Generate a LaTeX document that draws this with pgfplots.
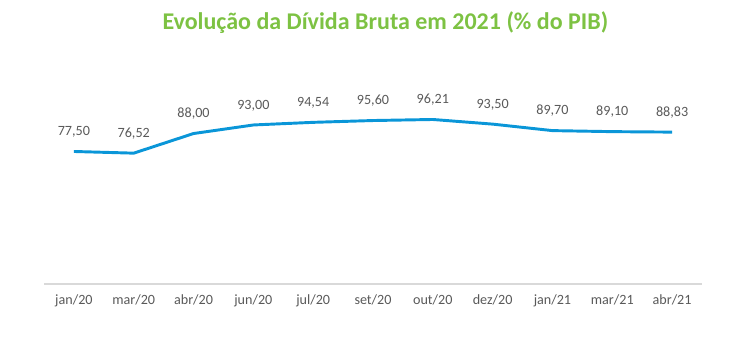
\documentclass[border=0pt]{standalone}
\usepackage{pgfplots}
\pgfplotsset{compat=1.18}
\usepackage{fontspec}
\setmainfont{Carlito}
\definecolor{linec}{HTML}{0A96D8}
\definecolor{titlec}{HTML}{7DC243}
\definecolor{txt}{HTML}{595959}
\definecolor{axc}{HTML}{D9D9D9}
\begin{document}
\begin{tikzpicture}
\begin{axis}[
  at={(33pt,53.25pt)}, anchor=south west,
  scale only axis, width=493.5pt, height=153.9pt,
  xmin=-0.5, xmax=10.5, ymin=0, ymax=120,
  axis y line=none, axis x line*=bottom,
  axis line style={axc, line width=0.8pt},
  x axis line style={-},
  xtick=data,
  xticklabels={jan/20,mar/20,abr/20,jun/20,jul/20,set/20,out/20,dez/20,jan/21,mar/21,abr/21},
  major tick length=0pt,
  xticklabel style={font=\fontsize{10.6}{12}\selectfont, text=txt, yshift=-4.5pt},
  nodes near coords,
  point meta=explicit symbolic,
  every node near coord/.append style={font=\fontsize{10.6}{12}\selectfont, text=txt, anchor=south, yshift=6pt},
  clip=false,
]
\addplot[linec, line width=2.2pt, mark=none] table[meta=lab] {
x y lab
0 77.50 77,50
1 76.52 76,52
2 88.00 88,00
3 93.00 93,00
4 94.54 94,54
5 95.60 95,60
6 96.21 96,21
7 93.50 93,50
8 89.70 89,70
9 89.10 89,10
10 88.83 88,83
};
\end{axis}
\node[font=\fontsize{18}{21}\selectfont\bfseries, text=titlec] at (289pt,249pt) {Evolução da Dívida Bruta em 2021 (\% do PIB)};
\pgfresetboundingbox
\path (0,0) rectangle (562.5pt,266.25pt);
\end{tikzpicture}
\end{document}
